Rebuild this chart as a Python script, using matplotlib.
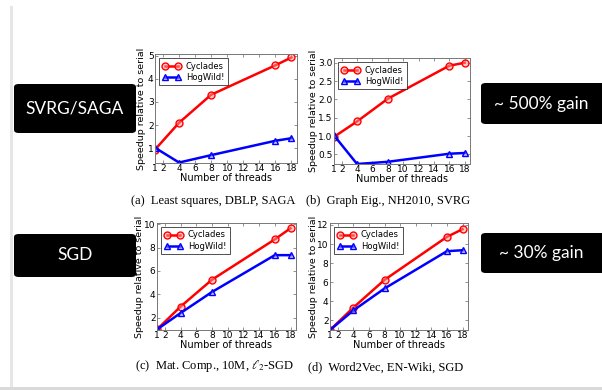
import matplotlib
matplotlib.use('Agg')
from matplotlib import pyplot as plt
from matplotlib.patches import FancyBboxPatch, Rectangle

threads = [1, 4, 8, 16, 18]

cyc_a = [0.94, 2.1, 3.31, 4.58, 4.92]
hog_a = [1.02, 0.38, 0.70, 1.32, 1.43]
cyc_b = [0.98, 1.40, 2.02, 2.92, 3.0]
hog_b = [1.02, 0.24, 0.30, 0.52, 0.54]
cyc_c = [1.0, 2.95, 5.25, 8.7, 9.65]
hog_c = [1.0, 2.4, 4.2, 7.35, 7.35]
cyc_d = [1.0, 3.35, 6.25, 10.75, 11.55]
hog_d = [1.0, 3.05, 5.35, 9.25, 9.35]

captions = ['(a)  Least squares, DBLP, SAGA', '(b)  Graph Eig., NH2010, SVRG',
            r'(c)  Mat. Comp., 10M, $\ell_2$-SGD', '(d)  Word2Vec, EN-Wiki, SGD']
xticks = [1, 2, 4, 6, 8, 10, 12, 14, 16, 18]
yticks_a = [1, 2, 3, 4, 5]
yticks_b = [0.5, 1.0, 1.5, 2.0, 2.5, 3.0]
yticks_c = [2, 4, 6, 8, 10]
yticks_d = [2, 4, 6, 8, 10, 12]

W, H = 602, 390
plt.rcParams['xtick.direction'] = 'in'
plt.rcParams['ytick.direction'] = 'in'
plt.rcParams['xtick.top'] = True
plt.rcParams['ytick.right'] = True
plt.rcParams['mathtext.fontset'] = 'stix'

fig = plt.figure(figsize=(W / 100, H / 100), dpi=100)
fig.patch.set_facecolor('white')


def px_axes(left, top, right, bottom):
    return fig.add_axes([left / W, 1 - bottom / H, (right - left) / W, (bottom - top) / H])


def panel(ax, cyc, hog, ylim, yticks, yfmt, caption, cap_x, cap_y, ylab_x):
    ax.plot(threads, cyc, color='red', lw=1.8, marker='o', ms=5,
            mfc=(1, 0.6, 0.6, 0.5), mec='red', mew=1.0, label='Cyclades')
    ax.plot(threads, hog, color='blue', lw=1.8, marker='^', ms=5,
            mfc=(0.6, 0.6, 1, 0.5), mec='blue', mew=1.0, label='HogWild!')
    ax.set_xlim(1, 18.7)
    ax.set_ylim(*ylim)
    ax.set_xticks(xticks)
    ax.set_yticks(yticks)
    ax.set_yticklabels([yfmt.format(v) for v in yticks])
    ax.tick_params(labelsize=6.5, length=2.5, width=0.5, color='#666666', pad=1.0)
    for s in ax.spines.values():
        s.set_color('#777777')
        s.set_linewidth(0.7)
    ax.set_xlabel('Number of threads', fontsize=7, labelpad=0)
    ax.set_ylabel('Speedup relative to serial', fontsize=6.8)
    # place the y label where it sits on the slide (pixel x of its centre)
    bb = ax.get_position()
    ax.yaxis.set_label_coords((ylab_x / W - bb.x0) / bb.width, 0.5)
    ax.yaxis.label.set_va('center')
    leg = ax.legend(loc='upper left', fontsize=6, numpoints=2, fancybox=False,
                    handlelength=2.2, borderpad=0.4, labelspacing=0.3,
                    borderaxespad=0.5, handletextpad=0.6)
    leg.get_frame().set_edgecolor('black')
    leg.get_frame().set_linewidth(0.6)
    fig.text(cap_x / W, 1 - cap_y / H, caption, ha='center', va='center',
             fontsize=9, family='Liberation Serif')


ax_a = px_axes(155, 54, 297, 163)
panel(ax_a, cyc_a, hog_a, (0.36, 5.07), yticks_a, '{:g}', captions[0], 213, 201, 141)
ax_b = px_axes(334, 58, 470, 164)
panel(ax_b, cyc_b, hog_b, (0.24, 3.13), yticks_b, '{:.1f}', captions[1], 388, 201, 313)
ax_c = px_axes(157, 223, 296, 330)
panel(ax_c, cyc_c, hog_c, (0.95, 10.1), yticks_c, '{:g}', captions[2], 215, 366, 140)
ax_d = px_axes(330, 223, 468, 330)
panel(ax_d, cyc_d, hog_d, (1.0, 12.2), yticks_d, '{:g}', captions[3], 386, 367, 313)

# slide decorations: black label boxes
boxes = [(14, 84, 136, 133, 'SVRG/SAGA'), (481, 83, 606, 124, '~ 500% gain'),
         (14, 234, 136, 277, 'SGD'), (481, 233, 606, 273, '~ 30% gain')]
for x0, y0, x1, y1, txt in boxes:
    p = FancyBboxPatch((x0 / W, 1 - y1 / H), (x1 - x0) / W, (y1 - y0) / H,
                       boxstyle='round,pad=0,rounding_size=0.008',
                       transform=fig.transFigure, facecolor='black', edgecolor='none')
    fig.patches.append(p)
    cx = (x0 + min(x1, 602)) / 2
    fig.text(cx / W, 1 - (y0 + y1) / 2 / H, txt, color='white', ha='center', va='center',
             fontsize=12.5, family='Lato')

# slide border lines
fig.patches.append(Rectangle((10 / W, 0), 3 / W, 1 - 6 / H, transform=fig.transFigure,
                             facecolor='#e6e6e6', edgecolor='none'))
fig.patches.append(Rectangle((0, 0), 1, 3 / H, transform=fig.transFigure,
                             facecolor='#d9d9d9', edgecolor='none'))

fig.savefig('out.png', dpi=100)
